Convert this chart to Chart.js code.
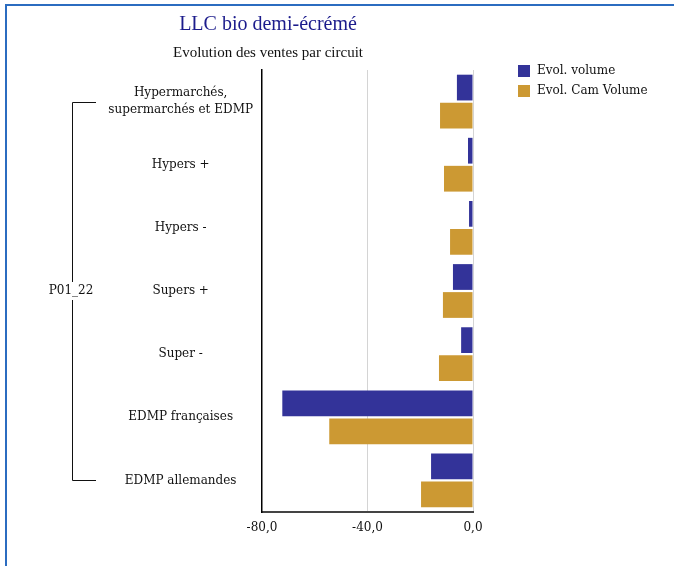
<!DOCTYPE html>
<html>
<head>
<meta charset="utf-8">
<script src="https://cdn.jsdelivr.net/npm/chart.js@4"></script>
<style>
  body { margin: 0; background: #fff; }
  #chart { display: block; }
</style>
</head>
<body>
<canvas id="chart" width="674" height="566"></canvas>
<script>
// Data
const categories = [
    ['Hypermarchés,', 'supermarchés et EDMP'],
    'Hypers +',
    'Hypers -',
    'Supers +',
    'Super -',
    'EDMP françaises',
    'EDMP allemandes'
];
const evolVolume = [-6.1, -1.9, -1.5, -7.6, -4.5, -72.3, -15.9];
const evolCamVolume = [-12.5, -11.0, -8.7, -11.4, -12.9, -54.5, -19.7];
const seriesNames = ['Evol. volume', 'Evol. Cam Volume'];
const xTicks = [-80, -40, 0];

const groupLabel = 'P01_22';
const mainTitle = 'LLC bio demi-écrémé';
const subTitle = 'Evolution des ventes par circuit';

const labelFont = '"DejaVu Serif", serif';
const titleFont = '"Liberation Serif", serif';

// Frame, titles, legend and the group bracket
const decorPlugin = {
    id: 'decor',
    beforeDraw(chart) {
        const ctx = chart.ctx;
        ctx.save();
        ctx.fillStyle = '#ffffff';
        ctx.fillRect(0, 0, chart.width, chart.height);
        ctx.strokeStyle = '#2b6cc0';
        ctx.lineWidth = 2;
        ctx.strokeRect(6, 5, chart.width + 20, chart.height + 20);
        ctx.restore();
    },
    afterDraw(chart) {
        const ctx = chart.ctx;
        ctx.save();

        // titles
        ctx.textAlign = 'center';
        ctx.textBaseline = 'middle';
        ctx.fillStyle = '#1c1c8c';
        ctx.font = '20px ' + titleFont;
        ctx.fillText(mainTitle, 268, 25);
        ctx.fillStyle = '#111111';
        ctx.font = '15px ' + titleFont;
        ctx.fillText(subTitle, 268, 53);

        // legend
        ctx.textAlign = 'left';
        ctx.font = '12px ' + labelFont;
        chart.data.datasets.forEach((ds, i) => {
            const y = 71 + i * 20;
            ctx.fillStyle = ds.backgroundColor;
            ctx.fillRect(518, y - 6, 12, 12);
            ctx.fillStyle = '#111111';
            ctx.fillText(ds.label, 537, y);
        });

        // bracket grouping all categories
        const yScale = chart.scales.y;
        const top = yScale.getPixelForValue(0);
        const bottom = yScale.getPixelForValue(categories.length - 1);
        const mid = (top + bottom) / 2;
        const bx = 72.5;
        ctx.strokeStyle = '#111111';
        ctx.lineWidth = 1;
        ctx.beginPath();
        ctx.moveTo(96, Math.round(top) + 0.5);
        ctx.lineTo(bx, Math.round(top) + 0.5);
        ctx.lineTo(bx, mid - 9);
        ctx.moveTo(bx, mid + 9);
        ctx.lineTo(bx, Math.round(bottom) + 0.5);
        ctx.lineTo(96, Math.round(bottom) + 0.5);
        ctx.stroke();
        ctx.textAlign = 'center';
        ctx.fillStyle = '#111111';
        ctx.fillText(groupLabel, 71, mid);

        ctx.restore();
    }
};

const ctx = document.getElementById('chart').getContext('2d');
new Chart(ctx, {
    type: 'bar',
    data: {
        labels: categories,
        datasets: [{
            label: seriesNames[0],
            data: evolVolume,
            backgroundColor: '#333399',
            borderWidth: 0
        }, {
            label: seriesNames[1],
            data: evolCamVolume,
            backgroundColor: '#cc9933',
            borderWidth: 0
        }]
    },
    options: {
        indexAxis: 'y',
        responsive: false,
        animation: false,
        barPercentage: 0.92,
        categoryPercentage: 0.887,
        layout: {
            padding: { top: 70, right: 201, bottom: 0, left: 0 }
        },
        plugins: {
            legend: { display: false },
            title: { display: false },
            tooltip: { enabled: false }
        },
        scales: {
            x: {
                min: -80,
                max: 0,
                afterBuildTicks: (scale) => {
                    scale.ticks = xTicks.map(v => ({ value: v }));
                },
                afterFit: (scale) => { scale.height = 54; },
                grid: {
                    drawTicks: false,
                    color: (c) => c.tick && c.tick.value === -80 ? 'rgba(0,0,0,0)' : '#d4d4d4',
                    lineWidth: 1
                },
                border: { display: true, color: '#444444', width: 2 },
                ticks: {
                    padding: 9,
                    color: '#111111',
                    font: { family: labelFont, size: 12 },
                    callback: (v) => Number(v).toFixed(1).replace('.', ',')
                }
            },
            y: {
                afterFit: (scale) => { scale.width = 262; },
                grid: { display: false, drawTicks: false },
                border: { display: true, color: '#000000', width: 1.5 },
                ticks: {
                    crossAlign: 'center',
                    padding: 9,
                    color: '#111111',
                    font: { family: labelFont, size: 12, lineHeight: 1.4 }
                }
            }
        }
    },
    plugins: [decorPlugin]
});
</script>
</body>
</html>
